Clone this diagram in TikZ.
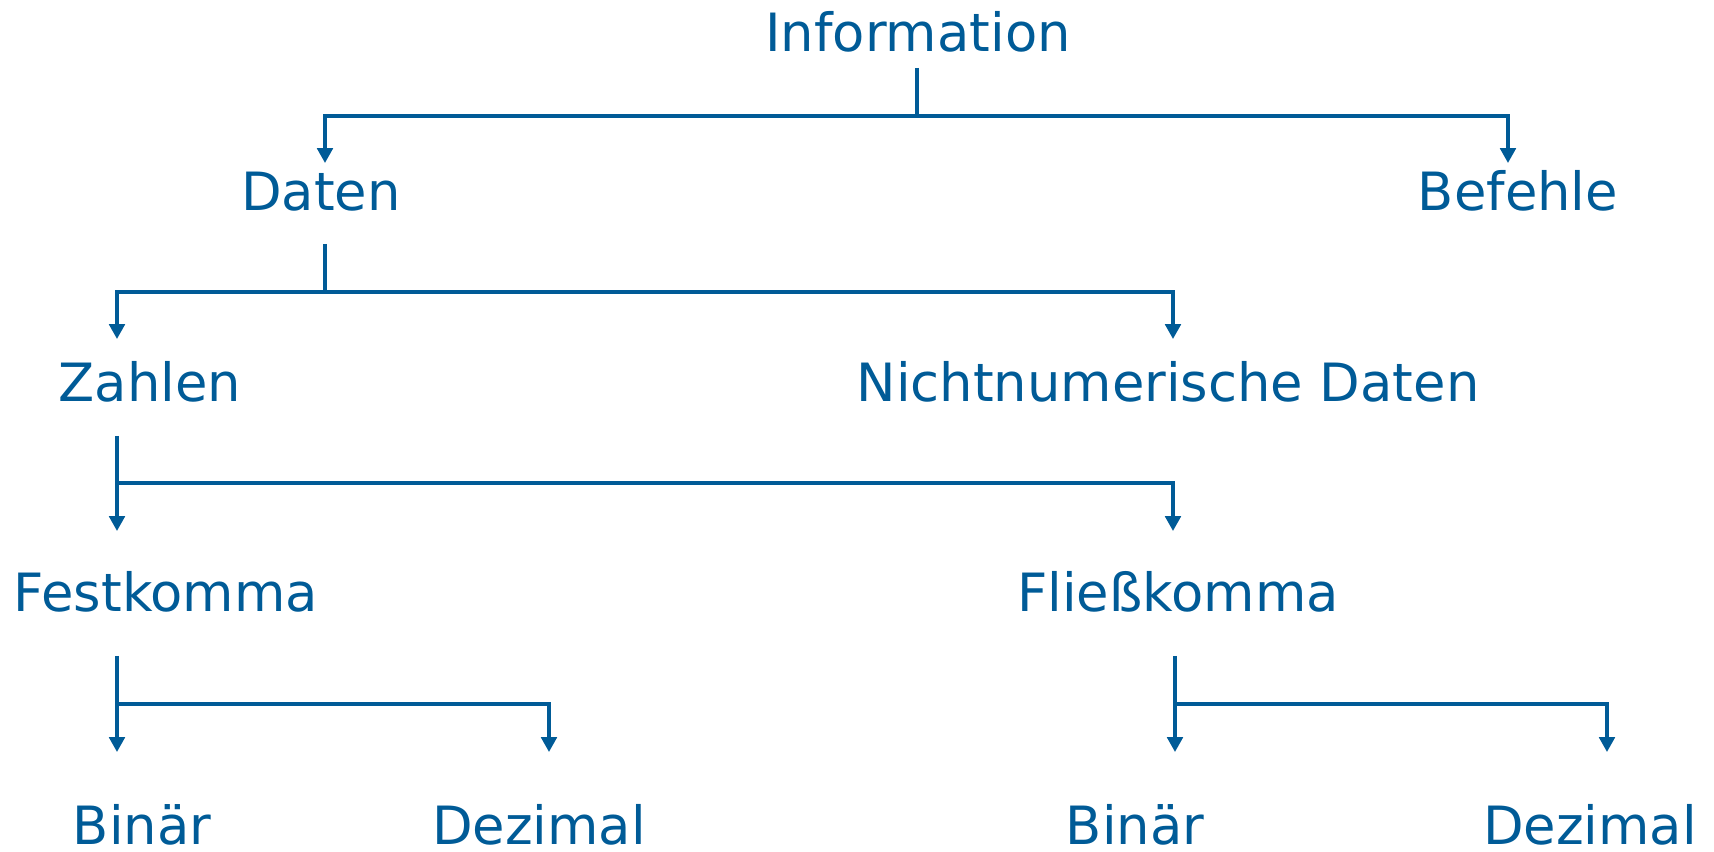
\documentclass[tikz,border=0pt]{standalone}
\usepackage{fontspec}
\setmainfont{DejaVu Sans}
\usepackage{tikz}
\usetikzlibrary{arrows.meta, calc}

\begin{document}
\begin{tikzpicture}[
    x=0.01cm, y=-0.01cm,
    lbl/.style={
        font=\fontsize{15pt}{18pt}\selectfont, text=cblue,
        anchor=base, inner sep=0pt
    },
    link/.style={
        line width=0.95pt, draw=cblue
    },
    harrow/.style={
        -{Triangle[length=4.2pt,width=4.4pt]}, line width=0.95pt, draw=cblue
    },
]

\definecolor{cblue}{RGB}{0,91,151}

\useasboundingbox (0,0) rectangle (1714,852);

% ============================================================
% Labels
% ============================================================

\node[lbl] (info)    at (918,52)   {Information};

\node[lbl] (daten)   at (321,211)  {Daten};
\node[lbl] (befehle) at (1518,211) {Befehle};

\node[lbl] (zahlen)  at (150,402)  {Zahlen};
\node[lbl] (nicht)   at (1168,402) {Nichtnumerische Daten};

\node[lbl] (fest)    at (166,612)  {Festkomma};
\node[lbl] (fliess)  at (1178,612) {Fließkomma};

\node[lbl] (binL)    at (142,845)  {Binär};
\node[lbl] (dezL)    at (539,845)  {Dezimal};
\node[lbl] (binR)    at (1135,845) {Binär};
\node[lbl] (dezR)    at (1590,845) {Dezimal};

% ============================================================
% Connectors
% ============================================================

% Information -> Daten / Befehle
\coordinate (f1) at ($(info.base)+(-1,64)$);
\draw[link] ($(info.base)+(-1,16)$) -- (f1);
\draw[harrow] (f1) -| ($(daten.base)+(4,-48)$);
\draw[harrow] (f1) -| ($(befehle.base)+(-10,-48)$);

% Daten -> Zahlen / Nichtnumerische Daten
\coordinate (f2) at ($(daten.base)+(4,81)$);
\draw[link] ($(daten.base)+(4,33)$) -- (f2);
\draw[harrow] (f2) -| ($(zahlen.base)+(-33,-63)$);
\draw[harrow] (f2) -| ($(nicht.base)+(5,-63)$);

% Zahlen -> Festkomma / Fliesskomma
\draw[harrow] ($(zahlen.base)+(-33,34)$) -- ($(fest.base)+(-49,-81)$);
\draw[harrow] ($(zahlen.base)+(-33,81)$) -| ($(fliess.base)+(-5,-81)$);

% Festkomma -> Binaer / Dezimal
\draw[harrow] ($(fest.base)+(-49,44)$) -- ($(binL.base)+(-25,-93)$);
\draw[harrow] ($(fest.base)+(-49,92)$) -| ($(dezL.base)+(10,-93)$);

% Fliesskomma -> Binaer / Dezimal
\draw[harrow] ($(fliess.base)+(-3,44)$) -- ($(binR.base)+(40,-93)$);
\draw[harrow] ($(fliess.base)+(-3,92)$) -| ($(dezR.base)+(17,-93)$);

\end{tikzpicture}
\end{document}
